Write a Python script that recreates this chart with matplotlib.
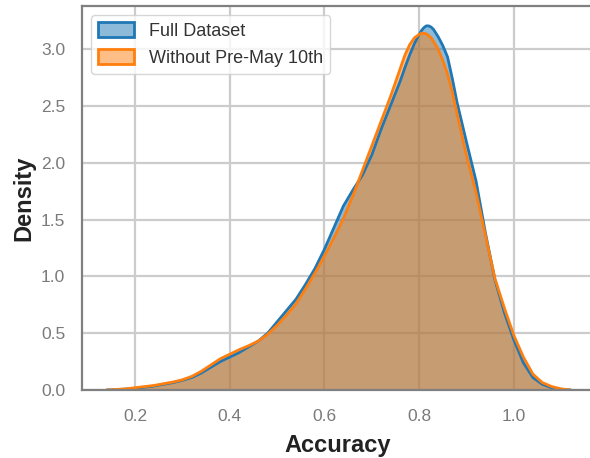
import numpy as np
import seaborn as sns
from matplotlib import pyplot as plt
from matplotlib.patches import Patch
from matplotlib.colors import to_rgb

# Kernel density of accuracy, read on a common grid
accuracy_grid = [0.14, 0.16, 0.18, 0.20, 0.22, 0.24, 0.26, 0.28, 0.30, 0.32,
                 0.34, 0.36, 0.38, 0.40, 0.42, 0.44, 0.46, 0.48, 0.50, 0.52,
                 0.54, 0.56, 0.58, 0.60, 0.62, 0.64, 0.66, 0.68, 0.70, 0.72,
                 0.74, 0.76, 0.77, 0.78, 0.79, 0.80, 0.805, 0.81, 0.815, 0.82,
                 0.825, 0.83, 0.84, 0.85, 0.86, 0.87, 0.88, 0.90, 0.92, 0.94,
                 0.96, 0.98, 1.00, 1.02, 1.04, 1.06, 1.08, 1.10, 1.12]

density_full = [0.0, 0.003, 0.008, 0.015, 0.025, 0.035, 0.05, 0.065, 0.085, 0.11,
                0.15, 0.20, 0.25, 0.29, 0.33, 0.38, 0.43, 0.50, 0.60, 0.70,
                0.80, 0.93, 1.07, 1.24, 1.43, 1.62, 1.76, 1.89, 2.07, 2.30,
                2.51, 2.72, 2.84, 2.95, 3.05, 3.13, 3.165, 3.19, 3.205, 3.205,
                3.195, 3.175, 3.11, 3.03, 2.93, 2.74, 2.53, 2.18, 1.84, 1.38,
                0.97, 0.68, 0.44, 0.24, 0.11, 0.05, 0.02, 0.005, 0.0]

density_without = [0.0, 0.005, 0.01, 0.02, 0.03, 0.04, 0.055, 0.07, 0.09, 0.12,
                   0.165, 0.22, 0.275, 0.315, 0.355, 0.39, 0.43, 0.49, 0.57, 0.66,
                   0.76, 0.89, 1.03, 1.18, 1.34, 1.51, 1.71, 1.93, 2.15, 2.37,
                   2.59, 2.83, 2.95, 3.04, 3.10, 3.13, 3.14, 3.14, 3.135, 3.12,
                   3.10, 3.07, 3.00, 2.90, 2.78, 2.62, 2.43, 2.06, 1.74, 1.36,
                   0.98, 0.72, 0.48, 0.29, 0.14, 0.065, 0.03, 0.01, 0.0]

labels = ['Full Dataset', 'Without Pre-May 10th']
colors = ['#1f77b4', '#ff7f0e']

sns.set_theme(style='whitegrid')
plt.rcParams['font.family'] = ['Liberation Sans', 'DejaVu Sans']

fig = plt.figure(figsize=(5.9, 4.58), dpi=100)
ax = fig.add_axes([82 / 590, 68 / 458, 511 / 590, 384 / 458])

for dens, lab, col in zip([density_full, density_without], labels, colors):
    ax.fill_between(accuracy_grid, dens, color=col, alpha=0.5, linewidth=0, label=lab)
    ax.plot(accuracy_grid, dens, color=col, linewidth=2, solid_joinstyle='round')

ax.set_xlim(0.088, 1.167)
ax.set_ylim(0, 3.38)
ax.set_xticks([0.2, 0.4, 0.6, 0.8, 1.0])
ax.set_yticks([0.0, 0.5, 1.0, 1.5, 2.0, 2.5, 3.0])

ax.grid(True, color='#cccccc', linewidth=1.6)
ax.set_axisbelow(True)
for side in ['left', 'bottom', 'top', 'right']:
    ax.spines[side].set_color('#808080')
    ax.spines[side].set_linewidth(1.6)

ax.tick_params(axis='both', labelsize=12.5, labelcolor='#7a7a7a')
ax.tick_params(axis='y', pad=6)
ax.tick_params(axis='x', pad=8)
ax.set_xlabel('Accuracy', fontsize=17, fontweight='bold', color='#222222', labelpad=7)
ax.set_ylabel('Density', fontsize=17, fontweight='bold', color='#222222', labelpad=4)

# legend patches with outlined edges
handles = [Patch(facecolor=(*to_rgb(c), 0.5), edgecolor=c, linewidth=2) for c in colors]
leg = ax.legend(handles, labels, loc='upper left', fontsize=13, frameon=True,
                borderaxespad=0.5, handlelength=2.0, handleheight=0.9)
for t in leg.get_texts():
    t.set_color('#333333')

plt.savefig('out.png', dpi=100)
plt.close()
